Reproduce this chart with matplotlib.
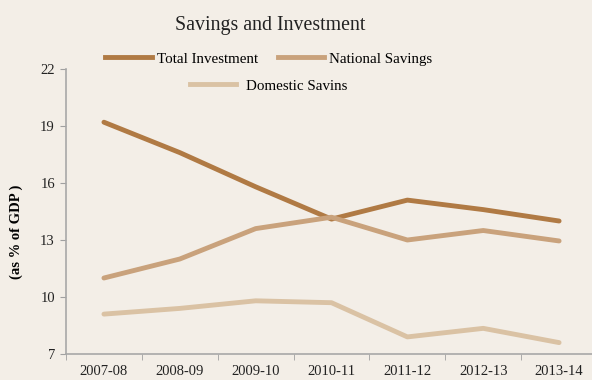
import matplotlib.pyplot as plt
from matplotlib.lines import Line2D

years = ['2007-08', '2008-09', '2009-10', '2010-11', '2011-12', '2012-13', '2013-14']
total_investment = [19.2, 17.6, 15.8, 14.1, 15.1, 14.6, 14.0]
national_savings = [11.0, 12.0, 13.6, 14.2, 13.0, 13.5, 12.95]
domestic_savings = [9.1, 9.4, 9.8, 9.7, 7.9, 8.35, 7.6]

c_total = '#b07a44'
c_nat = '#c9a27c'
c_dom = '#dac2a4'
bg = '#f3eee7'

plt.rcParams['font.family'] = ['Liberation Serif', 'DejaVu Serif']

fig = plt.figure(figsize=(5.92, 3.8), dpi=100, facecolor=bg)
ax = fig.add_axes([0.1115, 0.0684, 0.897, 0.75], facecolor=bg)

x = range(len(years))
ax.plot(x, total_investment, color=c_total, lw=3.5, solid_capstyle='round')
ax.plot(x, national_savings, color=c_nat, lw=3.5, solid_capstyle='round')
ax.plot(x, domestic_savings, color=c_dom, lw=3.5, solid_capstyle='round')

ax.set_xlim(-0.5, len(years) - 0.5)
ax.set_ylim(7, 22)
ax.set_yticks([7, 10, 13, 16, 19, 22])
ax.set_xticks(list(x))
ax.set_xticklabels(years)
ax.set_xticks([i - 0.5 for i in range(len(years) + 1)], minor=True)
ax.tick_params(axis='x', which='major', length=0, labelsize=10.5, pad=8, colors='#222222')
ax.tick_params(axis='x', which='minor', length=4, color='#a0a0a0')
ax.tick_params(axis='y', length=4, color='#a0a0a0', labelsize=10.5, labelcolor='#222222', pad=4)

for s in ['top', 'right']:
    ax.spines[s].set_visible(False)
for s in ['left', 'bottom']:
    ax.spines[s].set_color('#a8a8a8')
    ax.spines[s].set_linewidth(1.2)

ax.set_ylabel('(as % of GDP )', fontsize=10.5, fontweight='bold')
ax.yaxis.set_label_coords(-0.081, 0.43)

fig.text(0.456, 0.933, 'Savings and Investment', ha='center', va='center', fontsize=14.3, color='#222222')

h1 = [Line2D([], [], color=c_total, lw=3.5), Line2D([], [], color=c_nat, lw=3.5)]
fig.legend(h1, ['Total Investment', 'National Savings'], loc='center',
           bbox_to_anchor=(0.454, 0.845), ncol=2, frameon=False, fontsize=10.8,
           handlelength=3.1, handletextpad=0.33, columnspacing=1.3,
           borderpad=0, borderaxespad=0)
h2 = [Line2D([], [], color=c_dom, lw=3.5)]
fig.legend(h2, ['Domestic Savins'], loc='center', bbox_to_anchor=(0.454, 0.774),
           frameon=False, fontsize=10.8, handlelength=3.1, handletextpad=0.67,
           borderpad=0, borderaxespad=0)

fig.savefig('out.png', dpi=100, facecolor=bg)
